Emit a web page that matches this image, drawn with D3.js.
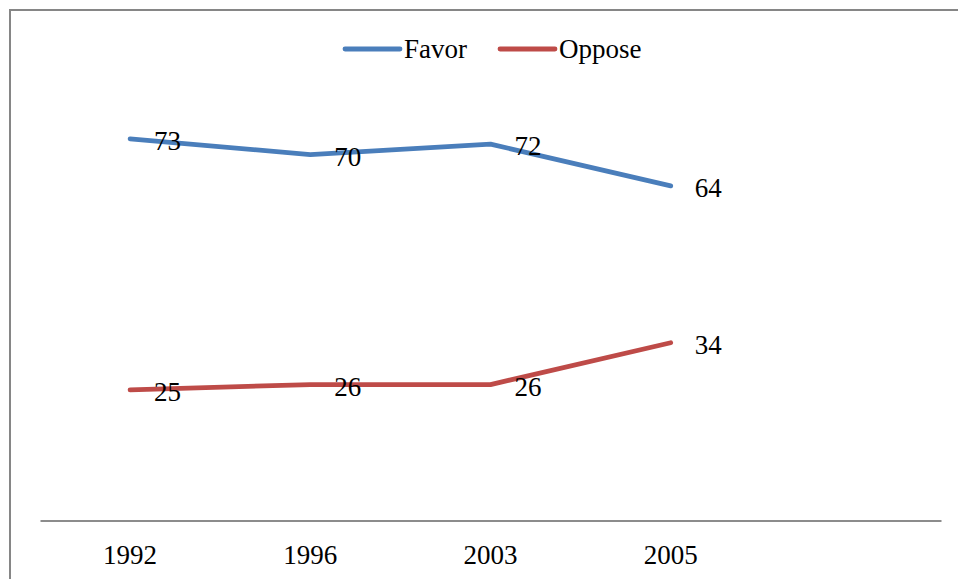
<!DOCTYPE html>
<html>
<head>
<meta charset="utf-8">
<script src="https://cdn.jsdelivr.net/npm/d3@7"></script>
<style>
  html, body { margin: 0; padding: 0; background: #fff; }
  svg { display: block; }
  text { font-family: "Liberation Serif", "DejaVu Serif", serif; fill: #000; }
</style>
</head>
<body>
<script>
// Survey results by year
const years = ["1992", "1996", "2003", "2005", ""];
const seriesNames = ["Favor", "Oppose"];
const favor = [73, 70, 72, 64];
const oppose = [25, 26, 26, 34];
const seriesColors = ["#4A7EBB", "#BE4B48"];

const W = 958, H = 579;
const FONT = 27;
const svg = d3.select("body").append("svg").attr("width", W).attr("height", H);

// Outer chart frame (top and left edges visible)
svg.append("path")
  .attr("d", "M10,579 L10,10 L958,10")
  .attr("fill", "none").attr("stroke", "#868686").attr("stroke-width", 2);

const x = d3.scaleBand().domain(years).range([40, 941]);
const y = d3.scaleLinear().domain([0, 90]).range([520.5, 50]);

// Category axis
const xAxis = svg.append("g").attr("transform", "translate(0,520.5)")
  .call(d3.axisBottom(x).tickSize(0).tickPadding(0));
xAxis.select(".domain").attr("stroke", "#8c8c8c").attr("stroke-width", 2);
xAxis.selectAll(".tick text")
  .attr("font-size", FONT).attr("dy", null).attr("y", 43)
  .style("font-family", "'Liberation Serif', serif").attr("fill", "#000");

const data = [favor, oppose];
const line = d3.line()
  .x((d, i) => x(years[i]) + x.bandwidth() / 2)
  .y(d => y(d));

data.forEach((vals, s) => {
  svg.append("path").datum(vals)
    .attr("d", line)
    .attr("fill", "none")
    .attr("stroke", seriesColors[s])
    .attr("stroke-width", 4.8)
    .attr("stroke-linecap", "round")
    .attr("stroke-linejoin", "round");

  svg.append("g").selectAll("text").data(vals).join("text")
    .attr("x", (d, i) => x(years[i]) + x.bandwidth() / 2 + 24)
    .attr("y", d => y(d) + 11)
    .attr("font-size", FONT)
    .text(d => d);
});

// Legend
const legendX = [345, 500];
seriesNames.forEach((name, s) => {
  const g = svg.append("g").attr("transform", `translate(${legendX[s]},49)`);
  g.append("line").attr("x1", 0).attr("x2", 55).attr("y1", 0).attr("y2", 0)
    .attr("stroke", seriesColors[s]).attr("stroke-width", 4.8).attr("stroke-linecap", "round");
  g.append("text").attr("x", 59).attr("y", 9).attr("font-size", FONT).text(name);
});
</script>
</body>
</html>
